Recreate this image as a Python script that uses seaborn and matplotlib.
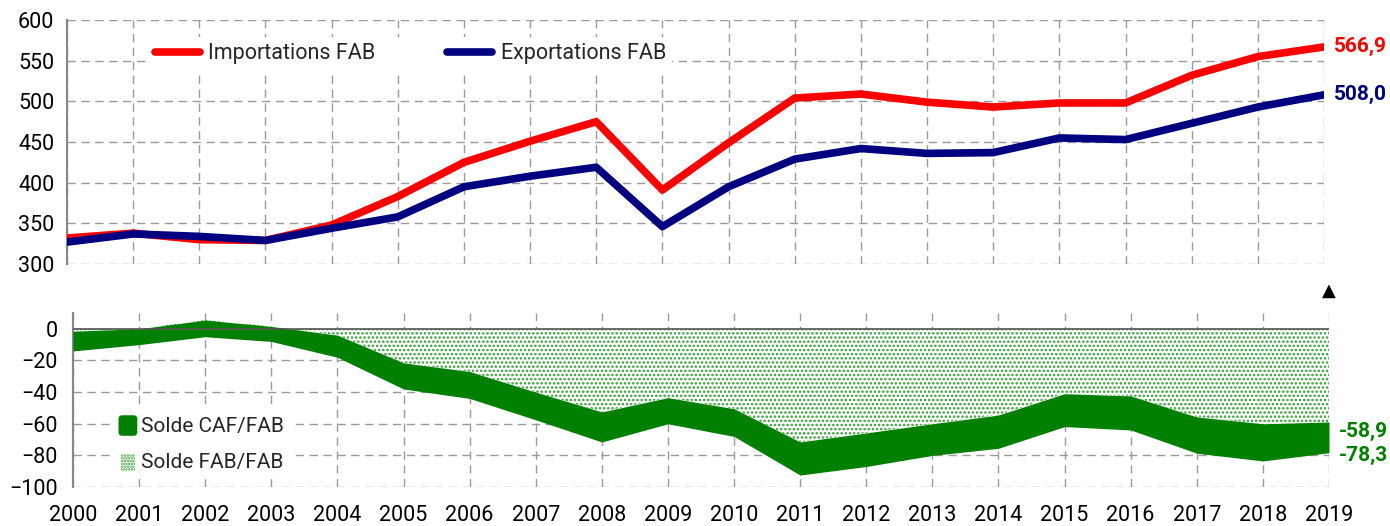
import numpy as np
import pandas as pd
import matplotlib
matplotlib.use("Agg")
import matplotlib.pyplot as plt
import matplotlib.patches as mpatches
from matplotlib.lines import Line2D
from matplotlib.legend_handler import HandlerPatch
import seaborn as sns

years = list(range(2000, 2020))
imports_fab = [332, 338, 330, 329, 348, 383, 425, 451, 475, 391,
               449, 504, 509, 499, 493, 498, 498, 532, 555, 566.9]
exports_fab = [327, 337, 334, 329, 344, 358, 395, 408, 419, 346,
               395, 429, 442, 436, 437, 455, 453, 473, 493, 508.0]
solde_fab_fab = [-1.5, 0, 5.5, 1.5, -4, -21.5, -27, -40, -52.5, -43.5,
                 -50.5, -71.5, -65.8, -60, -54.5, -41, -42.4, -55.7, -60, -58.9]
solde_caf_fab = [-14, -10, -5, -8, -18, -38, -44, -57.5, -71.5, -60,
                 -68, -92.4, -87, -80, -75.5, -61.8, -63.9, -78.6, -83.5, -78.3]

RED = "#FF0000"
NAVY = "#000080"
GREEN = "#008000"
DOTS = "#2e9e2e"
GRID = "#9a9a9a"

sns.set_style("white")
plt.rcParams['font.family'] = ['Roboto', 'DejaVu Sans']
plt.rcParams['hatch.linewidth'] = 1.2
plt.rcParams['hatch.color'] = DOTS

df = pd.DataFrame({"annee": years, "Importations FAB": imports_fab,
                   "Exportations FAB": exports_fab})

fig = plt.figure(figsize=(13.9, 5.26), dpi=100)
ax1 = fig.add_axes([0.0482, 0.498, 0.9043, 0.464])
ax2 = fig.add_axes([0.0525, 0.074, 0.9036, 0.331])

dash = (0, (6, 4))

# top panel
sns.lineplot(data=df, x="annee", y="Importations FAB", color=RED, lw=5.5,
             ax=ax1, zorder=3)
sns.lineplot(data=df, x="annee", y="Exportations FAB", color=NAVY, lw=5.5,
             ax=ax1, zorder=4)
ax1.set_xlim(2000, 2019)
ax1.set_ylim(300, 600)
ax1.set_yticks(range(300, 601, 50))
ax1.set_xticks(years)
ax1.set_xticklabels([])
ax1.set_xlabel("")
ax1.set_ylabel("")

ax1.annotate(f"{imports_fab[-1]:.1f}".replace(".", ","), (years[-1], imports_fab[-1]),
             xytext=(7, 0), textcoords="offset points", ha="left", va="center",
             color=RED, fontsize=15, fontweight="bold", annotation_clip=False)
ax1.annotate(f"{exports_fab[-1]:.1f}".replace(".", ","), (years[-1], exports_fab[-1]),
             xytext=(7, 0), textcoords="offset points", ha="left", va="center",
             color=NAVY, fontsize=15, fontweight="bold", annotation_clip=False)

h1 = [Line2D([], [], color=RED, lw=5.5, solid_capstyle="round"),
      Line2D([], [], color=NAVY, lw=5.5, solid_capstyle="round")]
leg1 = ax1.legend(h1, ["Importations FAB", "Exportations FAB"], ncol=2,
                  loc="center left", bbox_to_anchor=(0.056, 0.862),
                  frameon=True, fancybox=False, edgecolor="none",
                  facecolor="white", framealpha=1, fontsize=15.5,
                  handlelength=2.1, handletextpad=0.4, columnspacing=3.3,
                  borderpad=0.3)
leg1.set_zorder(5)

# bottom panel
ax2.fill_between(years, 0, solde_fab_fab, facecolor="white", edgecolor=DOTS,
                 hatch="....", lw=0, zorder=2)
ax2.fill_between(years, solde_fab_fab, solde_caf_fab, color=GREEN, lw=0, zorder=3)
ax2.axhline(0, color="#555555", lw=1.2, zorder=4)
ax2.set_xlim(2000, 2019)
ax2.set_ylim(-100, 10)
ax2.set_yticks(range(-100, 1, 20))
ax2.set_xticks(years)

ax2.annotate(f"{solde_fab_fab[-1]:.1f}".replace(".", ","), (years[-1], solde_fab_fab[-1]),
             xytext=(7, -7), textcoords="offset points", ha="left", va="center",
             color=GREEN, fontsize=15, fontweight="bold", annotation_clip=False)
ax2.annotate(f"{solde_caf_fab[-1]:.1f}".replace(".", ","), (years[-1], solde_caf_fab[-1]),
             xytext=(7, -2), textcoords="offset points", ha="left", va="center",
             color=GREEN, fontsize=15, fontweight="bold", annotation_clip=False)
ax2.text(years[-1], 1.126, "\u25B2", transform=ax2.get_xaxis_transform(),
         ha="center", va="center", fontsize=13, color="black",
         family=["DejaVu Sans"])


def rounded_box(legend, orig_handle, xdescent, ydescent, width, height, fontsize):
    r = 0.2 * height
    return mpatches.FancyBboxPatch((-xdescent + r, -ydescent + r - 0.1 * height),
                                   width - 2 * r, 1.1 * height - 2 * r,
                                   boxstyle=f"round,pad={r}")


def small_box(legend, orig_handle, xdescent, ydescent, width, height, fontsize):
    return mpatches.Rectangle((-xdescent + 0.12 * width, -ydescent - 0.05 * height),
                              0.76 * width, 0.9 * height)


solid = mpatches.Patch(color=GREEN, lw=0)
dotted = mpatches.Patch(facecolor="white", edgecolor=DOTS, hatch="......", lw=0)
leg2 = ax2.legend([solid, dotted], ["Solde CAF/FAB", "Solde FAB/FAB"],
                  handler_map={solid: HandlerPatch(patch_func=rounded_box),
                               dotted: HandlerPatch(patch_func=small_box)},
                  loc="center left", bbox_to_anchor=(0.023, 0.25),
                  frameon=True, fancybox=False, edgecolor="none",
                  facecolor="white", framealpha=1, fontsize=15,
                  handlelength=0.9, handleheight=1.0, handletextpad=0.2,
                  labelspacing=0.75, borderpad=0.3)
leg2.set_zorder(5)

for ax in (ax1, ax2):
    ax.grid(True, color=GRID, ls=dash, lw=1)
    ax.set_axisbelow(True)
    for s in ("top", "right", "bottom"):
        ax.spines[s].set_visible(False)
    ax.spines["left"].set_color("#888888")
    ax.spines["left"].set_linewidth(1.5)
    ax.tick_params(axis="both", length=0, labelsize=15.5, colors="black")
ax1.tick_params(axis="y", pad=9)
ax2.tick_params(axis="y", pad=11)
ax2.tick_params(axis="x", pad=13)

fig.savefig("out.png", dpi=100)
